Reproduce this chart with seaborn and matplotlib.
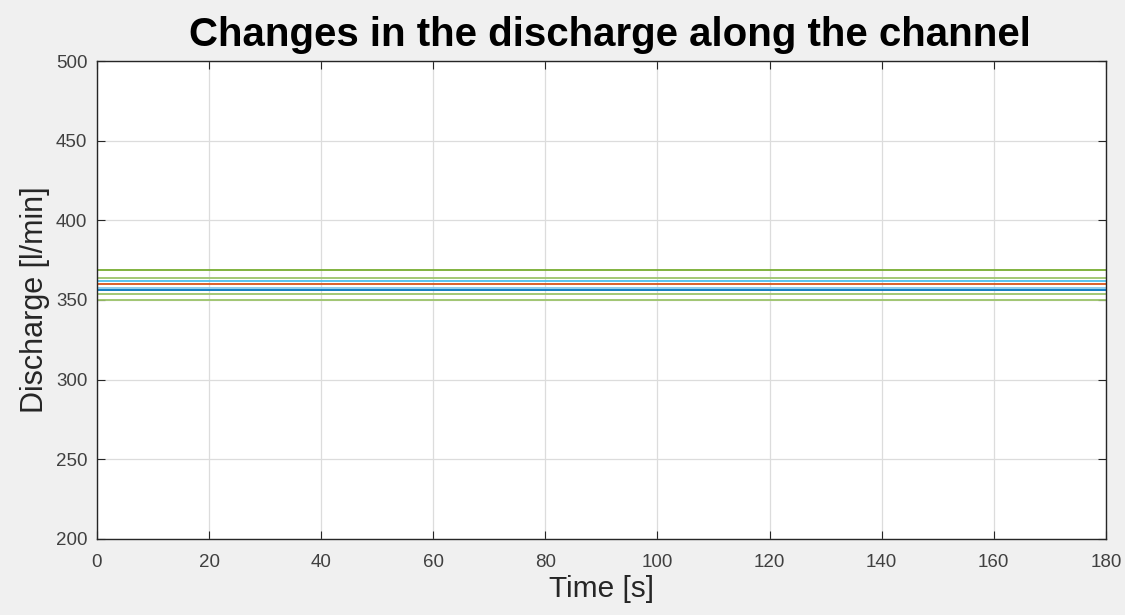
import numpy as np
import pandas as pd
import seaborn as sns
import matplotlib.pyplot as plt

# discharge at each section along the channel (l/min)
sections = ["S1", "S2", "S3", "S4", "S5", "S6", "S7", "S8"]
discharge_start = [368.8, 364.0, 361.8, 359.8, 357.8, 356.5, 354.0, 350.2]
discharge_end = [368.8, 364.0, 361.8, 359.8, 357.8, 356.5, 354.0, 350.2]
time_span = [0, 180]
line_colors = ["#77AC30", "#9cc46a", "#4DBEEE", "#D95319",
               "#86c8ec", "#0072BD", "#9cc46a", "#9cc46a"]

df = pd.DataFrame({
    "time": np.repeat([time_span], len(sections), axis=0).ravel(),
    "discharge": np.column_stack([discharge_start, discharge_end]).ravel(),
    "section": np.repeat(sections, 2),
})

sns.set_theme(style="whitegrid")
plt.rcParams["font.family"] = ["Liberation Sans", "DejaVu Sans"]

fig = plt.figure(figsize=(11.25, 6.15), dpi=100, facecolor="#f0f0f0")
ax = fig.add_axes([0.0862, 0.1236, 0.8968, 0.7772])

sns.lineplot(data=df, x="time", y="discharge", hue="section",
             palette=line_colors, linewidth=1.3, legend=False, ax=ax)

ax.set_xlim(0, 180)
ax.set_ylim(200, 500)
ax.set_xticks(np.arange(0, 181, 20))
ax.set_yticks(np.arange(200, 501, 50))
ax.grid(True, color="#dcdcdc", linewidth=0.9)
ax.set_facecolor("white")
for s in ax.spines.values():
    s.set_color("#262626")
    s.set_linewidth(1.0)
ax.tick_params(direction="in", length=6, width=0.8, color="#262626",
               labelsize=13.5, labelcolor="#404040", top=True, right=True,
               bottom=True, left=True)
ax.tick_params(axis="x", pad=11)
ax.tick_params(axis="y", pad=7)

ax.set_xlabel("Time [s]", fontsize=21.5, color="#262626", labelpad=3)
ax.set_ylabel("Discharge [l/min]", fontsize=22, color="#262626", labelpad=4)
ax.set_title("Changes in the discharge along the channel", fontsize=29,
             fontweight="bold", color="black", pad=11, x=0.508)

fig.savefig("out.png", dpi=100, facecolor=fig.get_facecolor())
